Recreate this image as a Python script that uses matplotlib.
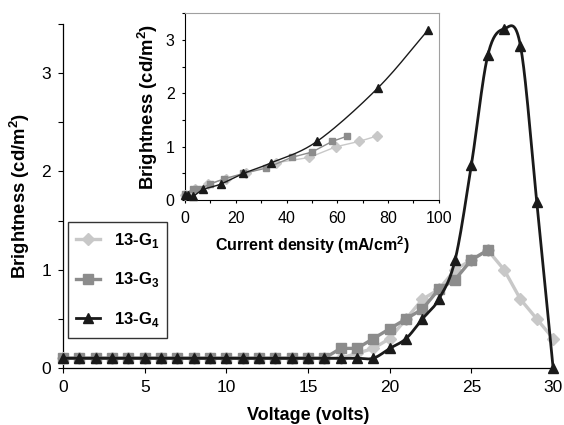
import numpy as np
import matplotlib
matplotlib.use("Agg")
import matplotlib.pyplot as plt
from matplotlib.ticker import MultipleLocator

plt.rcParams['font.family'] = ['Liberation Sans', 'DejaVu Sans']
plt.rcParams['mathtext.fontset'] = 'custom'
plt.rcParams['mathtext.rm'] = 'Liberation Sans'
plt.rcParams['mathtext.bf'] = 'Liberation Sans:bold'

# ---- main data: brightness vs voltage ----
volt_g1 = list(range(0, 31))
bright_g1 = [0.1]*17 + [0.1, 0.15, 0.2, 0.3, 0.5, 0.7, 0.8, 1.0, 1.1, 1.2, 1.0, 0.7, 0.5, 0.3]
volt_g3 = list(range(0, 27))
bright_g3 = [0.1]*17 + [0.2, 0.2, 0.3, 0.4, 0.5, 0.6, 0.8, 0.9, 1.1, 1.2]
volt_g4 = list(range(0, 31))
bright_g4 = [0.1]*20 + [0.2, 0.3, 0.5, 0.7, 1.1, 2.07, 3.18, 3.45, 3.28, 1.69, 0.0]

# ---- inset data: brightness vs current density ----
cd_g1 = [0, 2, 4, 9, 16, 24, 36, 49, 59.5, 68.6, 75.6]
ib_g1 = [0.1, 0.1, 0.2, 0.3, 0.4, 0.5, 0.7, 0.8, 1.0, 1.1, 1.2]
cd_g3 = [0, 3, 5.2, 9.8, 15.4, 23, 32, 42, 50, 58, 64]
ib_g3 = [0.12, 0.2, 0.2, 0.3, 0.4, 0.5, 0.6, 0.8, 0.9, 1.1, 1.2]
cd_g4 = [0, 1, 3, 7.2, 14, 23, 34, 52, 76, 95.7]
ib_g4 = [0.1, 0.1, 0.07, 0.2, 0.3, 0.5, 0.7, 1.1, 2.1, 3.18]

labels = ['13-G$_\\mathbf{1}$', '13-G$_\\mathbf{3}$', '13-G$_\\mathbf{4}$']
c1, c3, c4 = '#c8c8c8', '#8c8c8c', '#1a1a1a'


def smooth(x, y, n=20):
    """Catmull-Rom curve through the points, for drawing a smooth line."""
    x = np.asarray(x, float); y = np.asarray(y, float)
    P = np.column_stack([x, y])
    P = np.vstack([P[0] - (P[1] - P[0]), P, P[-1] + (P[-1] - P[-2])])
    out = []
    t = np.linspace(0, 1, n, endpoint=False)[:, None]
    for i in range(1, len(P) - 2):
        p0, p1, p2, p3 = P[i-1], P[i], P[i+1], P[i+2]
        seg = 0.5 * ((2*p1) + (-p0 + p2)*t + (2*p0 - 5*p1 + 4*p2 - p3)*t**2
                     + (-p0 + 3*p1 - 3*p2 + p3)*t**3)
        out.append(seg)
    out.append(P[-2][None, :])
    out = np.vstack(out)
    return out[:, 0], out[:, 1]


fig = plt.figure(figsize=(5.64, 4.25), dpi=100)
ax = fig.add_axes([0.1117, 0.134, 0.869, 0.8095])

ax.plot(volt_g1, bright_g1, color=c1, lw=2.4, marker='D', ms=6.5, mec=c1, mfc=c1,
        clip_on=False, zorder=3)
ax.plot(volt_g3, bright_g3, color=c3, lw=2.4, marker='s', ms=7, mec=c3, mfc=c3,
        clip_on=False, zorder=4)
sx, sy = smooth(volt_g4, bright_g4)
ax.plot(sx, sy, color=c4, lw=2.0, clip_on=False, zorder=5)
ax.plot(volt_g4, bright_g4, ls='none', marker='^', ms=7, color=c4, clip_on=False, zorder=6)

# legend proxies
h1, = ax.plot([], [], color=c1, lw=2.4, marker='D', ms=6.5)
h3, = ax.plot([], [], color=c3, lw=2.4, marker='s', ms=7)
h4, = ax.plot([], [], color=c4, lw=2.0, marker='^', ms=7)
leg = ax.legend([h1, h3, h4], labels, loc='upper left',
                bbox_to_anchor=(0.0102, 0.0, 0.202, 0.424), mode='expand',
                borderaxespad=0, frameon=True, fancybox=False, edgecolor='black',
                prop={'weight': 'bold', 'size': 12}, handlelength=1.4,
                labelspacing=1.25, borderpad=0.5, handletextpad=0.85)
leg.get_frame().set_linewidth(1.0)

ax.set_xlim(0, 30)
ax.set_ylim(0, 3.5)
ax.xaxis.set_major_locator(MultipleLocator(5))
ax.xaxis.set_minor_locator(MultipleLocator(1))
ax.yaxis.set_major_locator(MultipleLocator(1))
ax.yaxis.set_minor_locator(MultipleLocator(0.5))
ax.tick_params(axis='x', which='minor', length=0)
ax.tick_params(axis='both', which='major', labelsize=12.5, length=3.5, width=0.8, pad=5)
ax.tick_params(axis='y', which='minor', length=3.5, width=0.8)
for s in ['top', 'right']:
    ax.spines[s].set_visible(False)
for s in ['left', 'bottom']:
    ax.spines[s].set_linewidth(0.9)
ax.set_xlabel('Voltage (volts)', fontsize=13, fontweight='bold', labelpad=9)
ax.set_ylabel('Brightness (cd/m$^\\mathbf{2}$)', fontsize=13.3, fontweight='bold', labelpad=7)

# ---- inset ----
ins = fig.add_axes([0.328, 0.529, 0.450, 0.440])
ins.plot(cd_g1, ib_g1, color=c1, lw=1.0, marker='D', ms=5, mec=c1, mfc=c1, clip_on=False, zorder=3)
ins.plot(cd_g3, ib_g3, color=c3, lw=1.0, marker='s', ms=5, mec=c3, mfc=c3, clip_on=False, zorder=4)
ix, iy = smooth(cd_g4, ib_g4)
ins.plot(ix, iy, color=c4, lw=1.0, clip_on=False, zorder=5)
ins.plot(cd_g4, ib_g4, ls='none', marker='^', ms=5.5, color=c4, clip_on=False, zorder=6)
ins.set_xlim(0, 100)
ins.set_ylim(0, 3.5)
ins.xaxis.set_major_locator(MultipleLocator(20))
ins.xaxis.set_minor_locator(MultipleLocator(10))
ins.yaxis.set_major_locator(MultipleLocator(1))
ins.yaxis.set_minor_locator(MultipleLocator(0.5))
ins.tick_params(axis='both', which='both', labelsize=11.5, length=2.5, width=0.8, pad=5)
ins.spines['top'].set_color('#a0a0a0')
ins.spines['right'].set_color('#a0a0a0')
ins.set_xlabel('Current density (mA/cm$^\\mathbf{2}$)', fontsize=11.5, fontweight='bold', labelpad=6)
ins.set_ylabel('Brightness (cd/m$^\\mathbf{2}$)', fontsize=13.3, fontweight='bold', labelpad=4)

fig.savefig('out.png', dpi=100)
